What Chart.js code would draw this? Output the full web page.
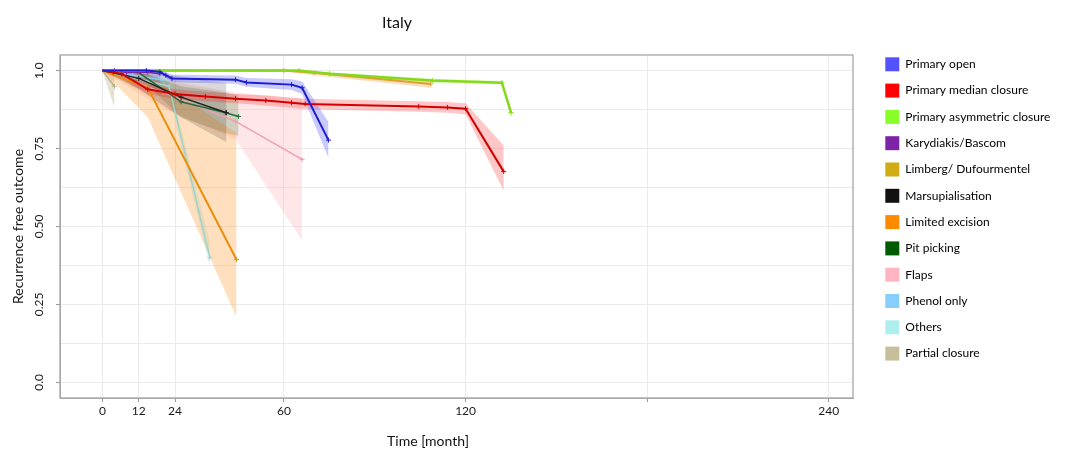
<!DOCTYPE html>
<html>
<head>
<meta charset="utf-8">
<script src="https://cdn.jsdelivr.net/npm/chart.js@4.4.0/dist/chart.umd.min.js"></script>
<style>
  body { margin: 0; background: #fff; }
  canvas { display: block; }
</style>
</head>
<body>
<canvas id="km" width="1067" height="452"></canvas>
<script>
// groups, in legend order
var groups = [
  "Primary open",
  "Primary median closure",
  "Primary asymmetric closure",
  "Karydiakis/Bascom",
  "Limberg/ Dufourmentel",
  "Marsupialisation",
  "Limited excision",
  "Pit picking",
  "Flaps",
  "Phenol only",
  "Others",
  "Partial closure",
];

// time [month], survival, lower / upper confidence
var openT = [0, 14.5, 19, 21, 23, 44, 47.6, 62.5, 66, 74.7];
var openS = [1, 1, 0.996, 0.985, 0.975, 0.971, 0.962, 0.955, 0.945, 0.777];
var openLo = [1, 0.995, 0.988, 0.975, 0.963, 0.958, 0.948, 0.938, 0.925, 0.72];
var openHi = [1, 1, 1, 0.995, 0.987, 0.984, 0.976, 0.972, 0.965, 0.835];

var medianT = [0, 3.6, 6.3, 15, 24, 34, 44, 54, 62.5, 67, 104.5, 114, 120, 132.6];
var medianS = [1, 0.995, 0.99, 0.94, 0.925, 0.917, 0.91, 0.904, 0.897, 0.893, 0.885, 0.882, 0.878, 0.676];
var medianLo = [1, 0.985, 0.975, 0.925, 0.91, 0.902, 0.895, 0.888, 0.88, 0.876, 0.868, 0.865, 0.86, 0.615];
var medianHi = [1, 1, 1, 0.955, 0.94, 0.932, 0.925, 0.92, 0.913, 0.91, 0.902, 0.899, 0.895, 0.76];

var asymT = [0, 65, 75, 109, 132, 135];
var asymS = [1, 1, 0.99, 0.968, 0.961, 0.865];
var asymLo = [1, 0.997, 0.985, 0.962, 0.955, 0.85];
var asymHi = [1, 1, 0.995, 0.974, 0.967, 0.88];

var karyT = [0, 4, 8, 15, 19];
var karyS = [1, 1, 0.995, 0.995, 0.99];
var karyLo = [1, 0.98, 0.97, 0.965, 0.955];
var karyHi = [1, 1, 1, 1, 1];

var limbergT = [0, 60, 70, 108.5];
var limbergS = [1, 1, 0.993, 0.957];
var limbergLo = [1, 0.997, 0.985, 0.945];
var limbergHi = [1, 1, 0.998, 0.966];

var marsT = [0, 12, 26, 41];
var marsS = [1, 0.975, 0.915, 0.865];
var marsLo = [1, 0.94, 0.85, 0.77];
var marsHi = [1, 1, 0.98, 0.96];

var limitedT = [0, 15, 44.3];
var limitedS = [1, 0.945, 0.394];
var limitedLo = [1, 0.85, 0.21];
var limitedHi = [1, 0.99, 0.8];

var pitT = [0, 11.5, 26, 40.7, 45];
var pitS = [1, 0.997, 0.9, 0.865, 0.853];
var pitLo = [1, 0.985, 0.85, 0.8, 0.79];
var pitHi = [1, 1, 0.95, 0.93, 0.92];

var flapsT = [0, 20, 44, 66];
var flapsS = [1, 0.93, 0.837, 0.715];
var flapsLo = [1, 0.88, 0.78, 0.455];
var flapsHi = [1, 0.97, 0.93, 0.91];

var phenolT = [0, 10, 20];
var phenolS = [1, 0.985, 0.97];
var phenolLo = [1, 0.95, 0.92];
var phenolHi = [1, 1, 1];

var othersT = [0, 22, 35.5];
var othersS = [1, 0.95, 0.4];
var othersLo = [1, 0.92, 0.37];
var othersHi = [1, 0.97, 0.45];

var partialT = [0, 4];
var partialS = [1, 0.95];
var partialLo = [1, 0.88];
var partialHi = [1, 1];

var xTicks = [0, 12, 24, 60, 120, 180, 240];
var yTicks = [0, 0.125, 0.25, 0.375, 0.5, 0.625, 0.75, 0.875, 1];

// styles
var legendColors = ["#5252ff", "#ff0000", "#88ff2a", "#7d24a6", "#d1ab14", "#111111",
  "#ff8a00", "#005a00", "#ffb6c1", "#87cefa", "#afeeee", "#c7be9b"];
var lineColors = ["#1c1cd0", "#d40000", "#86d81c", "#7d24a6", "#e0a030", "#222222",
  "#e8900a", "#1f6b3a", "#f0a0b0", "#87cefa", "#9fd3cc", "#b8ae88"];
var bandColors = ["rgba(80,80,255,0.3)", "rgba(255,0,0,0.22)", "rgba(136,255,42,0.3)",
  "rgba(125,36,166,0.15)", "rgba(240,160,60,0.35)", "rgba(0,0,0,0.15)",
  "rgba(255,150,40,0.3)", "rgba(0,100,0,0.18)", "rgba(255,182,193,0.35)",
  "rgba(135,206,250,0.3)", "rgba(175,238,238,0.45)", "rgba(199,190,155,0.45)"];
var lineWidths = [2, 2, 2.5, 1.5, 2, 1.5, 2, 1.5, 1.5, 1.5, 1.5, 1.5];

var times = [openT, medianT, asymT, karyT, limbergT, marsT, limitedT, pitT, flapsT, phenolT, othersT, partialT];
var surv = [openS, medianS, asymS, karyS, limbergS, marsS, limitedS, pitS, flapsS, phenolS, othersS, partialS];
var lower = [openLo, medianLo, asymLo, karyLo, limbergLo, marsLo, limitedLo, pitLo, flapsLo, phenolLo, othersLo, partialLo];
var upper = [openHi, medianHi, asymHi, karyHi, limbergHi, marsHi, limitedHi, pitHi, flapsHi, phenolHi, othersHi, partialHi];

function pts(t, v) {
  return t.map(function (x, i) { return { x: x, y: v[i] }; });
}

var datasets = [];
groups.forEach(function (g, i) {
  datasets.push({
    label: g,
    data: pts(times[i], surv[i]),
    borderColor: lineColors[i],
    backgroundColor: legendColors[i],
    borderWidth: lineWidths[i],
    pointStyle: "cross",
    pointRadius: function (ctx) { return ctx.dataIndex === 0 ? 0 : 2.5; },
    pointBorderColor: lineColors[i],
    pointBorderWidth: 1,
    fill: false,
    order: 0,
  });
});
groups.forEach(function (g, i) {
  datasets.push({
    label: g + " lower",
    data: pts(times[i], lower[i]),
    borderWidth: 0,
    pointRadius: 0,
    fill: false,
    order: 1,
  });
  datasets.push({
    label: g + " upper",
    data: pts(times[i], upper[i]),
    borderWidth: 0,
    pointRadius: 0,
    backgroundColor: bandColors[i],
    fill: "-1",
    order: 1,
  });
});

var font = "Lato, 'Open Sans', sans-serif";

var extras = {
  id: "extras",
  beforeLayout: function (chart) {
    var lg = chart.legend;
    if (lg && !lg._patched) {
      var fit = lg.fit;
      lg.fit = function () { fit.call(this); this.width = 214; };
      lg._patched = true;
    }
  },
  afterLayout: function (chart) {
    chart.legend.left = 873;
    chart.legend.top = 45;
  },
  afterDraw: function (chart) {
    var ctx = chart.ctx;
    var a = chart.chartArea;
    ctx.save();
    ctx.strokeStyle = "#a6a6a6";
    ctx.lineWidth = 1.3;
    ctx.strokeRect(a.left, a.top, a.right - a.left, a.bottom - a.top);
    ctx.fillStyle = "#111";
    ctx.textAlign = "center";
    ctx.textBaseline = "middle";
    ctx.font = "16px " + font;
    ctx.fillText("Italy", 397, 23);
    ctx.font = "14px " + font;
    ctx.fillText("Time [month]", 428, 441);
    ctx.restore();
  },
};

new Chart(document.getElementById("km"), {
  type: "line",
  data: { datasets: datasets },
  plugins: [extras],
  options: {
    responsive: false,
    animation: false,
    devicePixelRatio: 1,
    layout: { padding: { top: 55, left: 0, right: 0, bottom: 0 } },
    elements: { line: { tension: 0 } },
    plugins: {
      tooltip: { enabled: false },
      legend: {
        position: "right",
        align: "start",
        labels: {
          boxWidth: 14,
          boxHeight: 14,
          padding: 12.3,
          color: "#1a1a1a",
          font: { family: font, size: 12 },
          generateLabels: function () {
            return groups.map(function (g, i) {
              return {
                text: g,
                fillStyle: legendColors[i],
                strokeStyle: legendColors[i],
                lineWidth: 0,
                hidden: false,
                datasetIndex: i,
              };
            });
          },
        },
      },
    },
    scales: {
      x: {
        type: "linear",
        min: -14,
        max: 248,
        afterBuildTicks: function (scale) {
          scale.ticks = xTicks.map(function (v) { return { value: v }; });
        },
        afterFit: function (scale) { scale.height = 54; },
        ticks: {
          autoSkip: false,
          maxRotation: 0,
          padding: 2,
          color: "#1a1a1a",
          font: { family: font, size: 12 },
          callback: function (v) { return v === 180 ? "" : v; },
        },
        grid: { color: "#ebebeb", tickColor: "#999", tickLength: 4 },
        border: { color: "#a6a6a6" },
      },
      y: {
        type: "linear",
        min: -0.05,
        max: 1.05,
        afterBuildTicks: function (scale) {
          scale.ticks = yTicks.map(function (v) { return { value: v }; });
        },
        afterFit: function (scale) { scale.width = 60; },
        ticks: {
          autoSkip: false,
          minRotation: 90,
          maxRotation: 90,
          crossAlign: "center",
          padding: 5,
          color: "#1a1a1a",
          font: { family: font, size: 12 },
          callback: function (v) {
            var labels = { 0: "0.0", 0.25: "0.25", 0.5: "0.50", 0.75: "0.75", 1: "1.0" };
            return labels[v] !== undefined ? labels[v] : "";
          },
        },
        grid: {
          color: "#ebebeb",
          tickLength: 4,
          tickColor: function (ctx) {
            return ctx.tick && ctx.tick.value % 0.25 === 0 ? "#999" : "rgba(0,0,0,0)";
          },
        },
        border: { color: "#a6a6a6" },
        title: {
          display: true,
          text: "Recurrence free outcome",
          color: "#1a1a1a",
          font: { family: font, size: 14 },
          padding: { top: 10, bottom: 0 },
        },
      },
    },
  },
});
</script>
</body>
</html>
